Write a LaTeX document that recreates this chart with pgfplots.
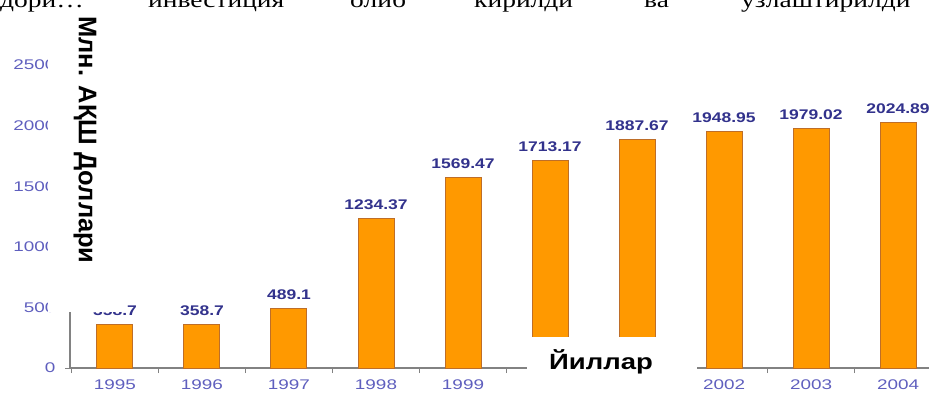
\documentclass[border=0pt]{standalone}
\usepackage{fontspec}
\usepackage{pgfplots}
\pgfplotsset{compat=1.18}
\setmainfont{Liberation Sans}
\newfontfamily\widesans[FakeStretch=1.35]{Liberation Sans}
\newfontfamily\labelfont[FakeStretch=1.25]{Liberation Sans}
\newfontfamily\topserif[FakeStretch=1.25]{Liberation Serif}
\definecolor{barfill}{HTML}{FF9900}
\definecolor{bardraw}{RGB}{190,110,40}
\definecolor{tickblue}{RGB}{95,95,190}
\definecolor{valblue}{RGB}{50,50,140}
\definecolor{axisgray}{RGB}{130,130,130}
\begin{document}
\begin{tikzpicture}
\useasboundingbox (0,0) rectangle (929pt,394pt);
\begin{axis}[
  at={(70pt,26pt)}, anchor=south west,
  scale only axis, width=859pt, height=303pt,
  xmin=-0.517, xmax=9.356, ymin=0, ymax=2500,
  axis x line=bottom, axis y line=left,
  axis line style={draw=axisgray, line width=1.2pt, -},
  ytick={0,500,1000,1500,2000,2500},
  xtick={-0.5,0.5,1.5,2.5,3.5,4.5,5.5,6.5,7.5,8.5}, xticklabels={},
  extra x ticks={0,1,2,3,4,5,6,7,8,9},
  extra x tick labels={1995,1996,1997,1998,1999,2000,2001,2002,2003,2004},
  extra x tick style={major tick length=0pt},
  tick align=outside, major tick length=5pt,
  tick style={draw=axisgray, line width=1pt},
  /pgf/number format/assume math mode=true,
  /pgf/number format/1000 sep={},
  tick label style={font=\widesans\fontsize{14pt}{14pt}\selectfont, text=tickblue},
  yticklabel style={xshift=-6pt},
  xticklabel style={yshift=-8pt},
  ybar, bar width=36pt,
  nodes near coords, point meta=explicit symbolic,
  nodes near coords style={font=\labelfont\bfseries\fontsize{14pt}{14pt}\selectfont, text=valblue, anchor=base, yshift=9pt},
  clip=false,
]
\addplot[fill=barfill, draw=bardraw, line width=1pt] coordinates {
(0,358.7) [358.7]
(1,358.7) [358.7]
(2,489.1) [489.1]
(3,1234.37) [1234.37]
(4,1569.47) [1569.47]
(5,1713.17) [1713.17]
(6,1887.67) [1887.67]
(7,1948.95) [1948.95]
(8,1979.02) [1979.02]
(9,2024.89) [2024.89]
};
\end{axis}
\fill[white] (48pt,82pt) rectangle (124pt,382pt);
\node[rotate=-90, inner sep=0pt, font=\bfseries\fontsize{25.5pt}{25.5pt}\selectfont] at (85pt,254pt) {Млн. АҚШ Доллари};
\fill[white] (527pt,0pt) rectangle (697pt,57pt);
\node[inner sep=0pt, font=\labelfont\bfseries\fontsize{22pt}{22pt}\selectfont] at (601pt,32pt) {Йиллар};
\begin{scope}[every node/.style={anchor=base west, inner sep=0pt, font=\topserif\fontsize{22pt}{22pt}\selectfont}]
\node at (0pt,386pt) {дори…};
\node at (148pt,386pt) {инвестиция};
\node at (350pt,386pt) {олиб};
\node at (474pt,386pt) {кирилди};
\node at (644pt,386pt) {ва};
\node at (741pt,386pt) {узлаштирилди};
\end{scope}
\end{tikzpicture}
\end{document}
